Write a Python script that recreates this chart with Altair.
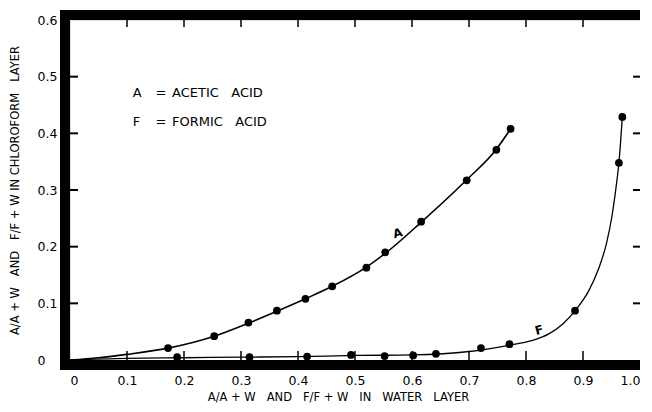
import altair as alt
import pandas as pd

# ---- values ----
acetic_x = [0.172, 0.253, 0.313, 0.363, 0.413, 0.460, 0.520, 0.553, 0.616, 0.696, 0.748, 0.773]
acetic_y = [0.021, 0.042, 0.066, 0.087, 0.108, 0.130, 0.163, 0.190, 0.244, 0.317, 0.371, 0.408]

formic_x = [0.188, 0.315, 0.416, 0.493, 0.552, 0.602, 0.642, 0.721, 0.771, 0.886, 0.963, 0.969]
formic_y = [0.005, 0.005, 0.006, 0.009, 0.007, 0.008, 0.011, 0.021, 0.028, 0.087, 0.348, 0.429]

# smooth curves drawn through the points
acetic_curve_x = [0.0, 0.05, 0.10, 0.172, 0.253, 0.313, 0.363, 0.413, 0.460, 0.520, 0.553, 0.616, 0.696, 0.748, 0.773]
acetic_curve_y = [0.0, 0.004, 0.010, 0.021, 0.042, 0.065, 0.086, 0.108, 0.130, 0.164, 0.188, 0.243, 0.318, 0.372, 0.408]

formic_curve_x = [0.0, 0.10, 0.20, 0.30, 0.40, 0.50, 0.60, 0.70, 0.77, 0.81, 0.84, 0.865, 0.89, 0.91, 0.927, 0.941, 0.951, 0.958, 0.963, 0.969]
formic_curve_y = [0.0, 0.003, 0.004, 0.005, 0.006, 0.008, 0.009, 0.015, 0.026, 0.034, 0.046, 0.064, 0.092, 0.122, 0.160, 0.205, 0.255, 0.305, 0.348, 0.429]

x_ticks = [0.0, 0.1, 0.2, 0.3, 0.4, 0.5, 0.6, 0.7, 0.8, 0.9, 1.0]
y_ticks = [0.0, 0.1, 0.2, 0.3, 0.4, 0.5, 0.6]
x_inner_ticks = [0.1, 0.2, 0.3, 0.4, 0.5, 0.6, 0.7, 0.8, 0.9]
y_inner_ticks = [0.1, 0.2, 0.3, 0.4, 0.5]

NB = "\u00a0"
legend_text = ["A", "=", f"ACETIC{NB*3}ACID", "F", "=", f"FORMIC{NB*3}ACID"]
legend_x = [0.110, 0.150, 0.179, 0.110, 0.150, 0.179]
legend_y = [0.471, 0.471, 0.471, 0.420, 0.420, 0.420]

curve_label_text = ["A", "F"]
curve_label_x = [0.575, 0.823]
curve_label_y = [0.224, 0.053]

x_title = f"A/A + W{NB*3}AND{NB*3}F/F + W{NB*3}IN{NB*3}WATER{NB*3}LAYER"
y_title = f"A/A + W{NB*3}AND{NB*3}F/F + W{NB}IN{NB}CHLOROFORM{NB*3}LAYER"

# ---- chart ----
W, H = 570, 340
FONT = "DejaVu Sans"
xs = alt.Scale(domain=[0, 1.0], nice=False, zero=False)
ys = alt.Scale(domain=[0, 0.6], nice=False, zero=False)

lab_expr = "datum.value == 0 ? '0' : format(datum.value, '.1f')"

x_axis = alt.Axis(
    values=x_ticks, labelExpr=lab_expr, domain=False, ticks=False, tickSize=0, grid=False,
    labelPadding=14, labelFont=FONT, labelFontSize=12.5, labelColor="black",
    title=x_title, titleFont=FONT, titleFontSize=11.5, titleFontWeight="normal", titleColor="black",
    titleX=268, titleY=37, titleAnchor="middle", titleAlign="center", titleBaseline="middle",
)
y_axis = alt.Axis(
    values=y_ticks, labelExpr=lab_expr, domain=False, ticks=False, tickSize=0, grid=False,
    labelPadding=33, labelAlign="left", labelFont=FONT, labelFontSize=12.5, labelColor="black",
    title=y_title, titleFont=FONT, titleFontSize=11.5, titleFontWeight="normal", titleColor="black",
    titleX=-55, titleY=170, titleAngle=270, titleAlign="center", titleBaseline="middle",
)

def X(field="x"):
    return alt.X(f"{field}:Q", scale=xs, axis=x_axis)

def Y(field="y"):
    return alt.Y(f"{field}:Q", scale=ys, axis=y_axis)

a_pts = pd.DataFrame({"x": acetic_x, "y": acetic_y})
f_pts = pd.DataFrame({"x": formic_x, "y": formic_y})
a_cur = pd.DataFrame({"x": acetic_curve_x, "y": acetic_curve_y})
f_cur = pd.DataFrame({"x": formic_curve_x, "y": formic_curve_y})

line_a = alt.Chart(a_cur).mark_line(color="black", strokeWidth=1.6, interpolate="monotone").encode(x=X(), y=Y())
line_f = alt.Chart(f_cur).mark_line(color="black", strokeWidth=1.3, interpolate="monotone").encode(x=X(), y=Y())
pts_a = alt.Chart(a_pts).mark_circle(color="black", opacity=1, size=60).encode(x=X(), y=Y())
pts_f = alt.Chart(f_pts).mark_circle(color="black", opacity=1, size=60).encode(x=X(), y=Y())

yt = pd.DataFrame({"v": y_inner_ticks})
xt = pd.DataFrame({"v": x_inner_ticks})
tick_l = alt.Chart(yt).mark_rule(color="black", strokeWidth=2).encode(
    y=alt.Y("v:Q", scale=ys, axis=y_axis), x=alt.value(0), x2=alt.value(8))
tick_r = alt.Chart(yt).mark_rule(color="black", strokeWidth=2).encode(
    y=alt.Y("v:Q", scale=ys, axis=y_axis), x=alt.value(W - 7), x2=alt.value(W))
tick_b = alt.Chart(xt).mark_rule(color="black", strokeWidth=1.5).encode(
    x=alt.X("v:Q", scale=xs, axis=x_axis), y=alt.value(H - 9), y2=alt.value(H))
tick_t = alt.Chart(xt).mark_rule(color="black", strokeWidth=1.5).encode(
    x=alt.X("v:Q", scale=xs, axis=x_axis), y=alt.value(0), y2=alt.value(7))

frame = alt.Chart(pd.DataFrame({"k": [0]})).mark_rect(
    filled=False, stroke="black", strokeWidth=10
).encode(x=alt.value(-5), x2=alt.value(W + 5), y=alt.value(-5), y2=alt.value(H + 5))

leg = pd.DataFrame({"t": legend_text, "x": legend_x, "y": legend_y})
legend = alt.Chart(leg).mark_text(
    align="left", baseline="middle", font=FONT, fontSize=13, color="black"
).encode(x=X(), y=Y(), text="t:N")

cl = pd.DataFrame({"t": curve_label_text, "x": curve_label_x, "y": curve_label_y})
curve_labels = alt.Chart(cl).mark_text(
    align="center", baseline="middle", font=FONT, fontSize=12, fontWeight="bold", color="black", angle=345
).encode(x=X(), y=Y(), text="t:N")

chart = alt.layer(
    line_a, line_f, pts_a, pts_f, tick_l, tick_r, tick_b, tick_t, legend, curve_labels, frame
).properties(
    width=W, height=H,
    autosize=alt.AutoSizeParams(type="none"),
    padding={"left": 62, "top": 12, "right": 0, "bottom": 44},
).configure_view(stroke=None).configure(background="white")

chart.save("out.html", embed_options={"renderer": "svg", "actions": False})
